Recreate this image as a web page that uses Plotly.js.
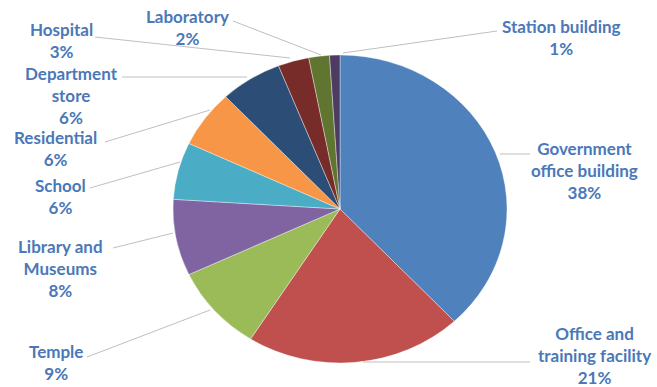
<!DOCTYPE html>
<html>
<head>
<meta charset="utf-8">
<script src="https://cdn.plot.ly/plotly-3.0.1.min.js"></script>
<style>
html,body{margin:0;padding:0;background:#fff;}
#chart{width:657px;height:387px;}
</style>
</head>
<body>
<div id="chart"></div>
<script>
// Data (clockwise from 12 o'clock)
const categories = ["Government office building","Office and training facility","Temple","Library and Museums","School","Residential","Department store","Hospital","Laboratory","Station building"];
const displayNames = ["Government<br>office building","Office and<br>training facility","Temple","Library and<br>Museums","School","Residential","Department<br>store","Hospital","Laboratory","Station building"];
const shares = [38, 21, 9, 8, 6, 6, 6, 3, 2, 1];
const sliceColors = ["#4F81BD","#C0504D","#9BBB59","#8064A2","#4BACC6","#F79646","#2C4D75","#772C2A","#5F7530","#4D3B62"];

// Label layout (pixel positions of label block centres and leader lines)
const labelPos = [[584,170],[594,355],[56,362],[60,268],[60,196],[55,148],[71,95],[61,40],[187,28],[561,38]];
const leaderLines = [
  [[500,154],[530,154]],
  [[363,362],[530,362]],
  [[210,310],[87,357]],
  [[173,233],[113,248]],
  [[180,162],[90,188]],
  [[210,110],[105,142]],
  [[247,77],[122,77]],
  [[290,58],[95,37]],
  [[321,55],[233,21]],
  [[343,53],[497,31]]
];

const W = 657, H = 387;
const px = x => x / W;
const py = y => 1 - y / H;

// pie geometry: centre (340,209), vertical radius 154, horizontal radius 167
const cx = 340, cy = 209, ry = 154, rx = 167;

const trace = {
  type: 'pie',
  labels: categories,
  values: shares,
  sort: false,
  direction: 'clockwise',
  rotation: 0,
  textinfo: 'none',
  hoverinfo: 'none',
  showlegend: false,
  marker: {colors: sliceColors, line: {color: 'rgba(255,255,255,0.6)', width: 0.6}},
  domain: {x: [px(cx - ry), px(cx + ry)], y: [py(cy + ry), py(cy - ry)]}
};

const annotations = categories.map((c, i) => ({
  xref: 'paper', yref: 'paper',
  x: px(labelPos[i][0]), y: py(labelPos[i][1]),
  xanchor: 'center', yanchor: 'middle',
  align: 'center',
  showarrow: false,
  borderpad: 0,
  text: displayNames[i] + '<br>' + shares[i] + '%',
  font: {family: 'Lato, "Open Sans", sans-serif', size: 17, color: '#4A78B8', weight: 'bold'}
}));

const shapes = leaderLines.map(l => ({
  type: 'line', xref: 'paper', yref: 'paper',
  x0: px(l[0][0]), y0: py(l[0][1]), x1: px(l[1][0]), y1: py(l[1][1]),
  line: {color: '#BFBFBF', width: 1}
}));

const layout = {
  width: W, height: H,
  margin: {l: 0, r: 0, t: 0, b: 0},
  paper_bgcolor: '#fff', plot_bgcolor: '#fff',
  annotations: annotations,
  shapes: shapes,
  showlegend: false
};

Plotly.newPlot('chart', [trace], layout, {displayModeBar: false, staticPlot: true}).then(() => {
  const pl = document.querySelector('.pielayer');
  if (pl) {
    pl.style.transformBox = 'view-box';
    pl.style.transformOrigin = cx + 'px ' + cy + 'px';
    pl.style.transform = 'scaleX(' + (rx / ry) + ')';
  }
});
</script>
</body>
</html>
